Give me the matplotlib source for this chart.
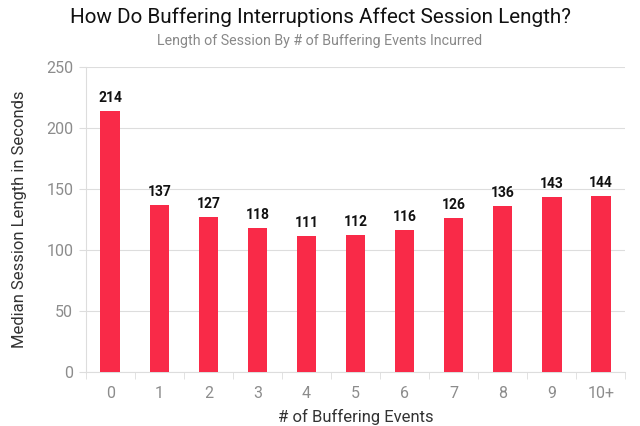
import matplotlib
matplotlib.use("Agg")
import matplotlib.pyplot as plt
import numpy as np

categories = ["0", "1", "2", "3", "4", "5", "6", "7", "8", "9", "10+"]
median_seconds = [214, 137, 127, 118, 111, 112, 116, 126, 136, 143, 144]
yticks = [0, 50, 100, 150, 200, 250]

plt.rcParams['font.family'] = ['Roboto', 'DejaVu Sans']

fig = plt.figure(figsize=(6.4, 4.26), dpi=100)
ax = fig.add_axes([0.134, 0.127, 0.843, 0.716])

x = np.arange(len(categories))
ax.bar(x, median_seconds, width=0.4, color="#f92a48", zorder=3)

for xi, v in zip(x, median_seconds):
    ax.text(xi, v + 5, str(v), ha="center", va="bottom",
            fontsize=10, fontweight="bold", color="#111111")

ax.set_xlim(-0.5, len(categories) - 0.5)
ax.set_ylim(0, 250)
ax.set_yticks(yticks)
ax.grid(axis="y", color="#dddddd", linewidth=0.8, zorder=0)

ax.set_xticks(x)
ax.set_xticklabels(categories)
ax.set_xticks(np.arange(-0.5, len(categories)), minor=True)
ax.tick_params(axis="x", which="major", length=0, pad=10, labelsize=11.5, labelcolor="#8c8c8c")
ax.tick_params(axis="x", which="minor", length=5, color="#dddddd")
ax.tick_params(axis="y", length=5, color="#dddddd", labelsize=11.5, labelcolor="#8c8c8c", pad=4)

for side in ["top", "right"]:
    ax.spines[side].set_visible(False)
ax.spines["left"].set_color("#dddddd")
ax.spines["bottom"].set_color("#dddddd")

ax.set_xlabel("# of Buffering Events", fontsize=12, color="#333333", labelpad=6)
ax.set_ylabel("Median Session Length in Seconds", fontsize=12, color="#333333", labelpad=14)

fig.text(0.5, 0.945, "How Do Buffering Interruptions Affect Session Length?",
         ha="center", fontsize=14.9, color="#111111")
fig.text(0.5, 0.895, "Length of Session By # of Buffering Events Incurred",
         ha="center", fontsize=10.3, color="#888888")

fig.savefig("out.png", dpi=100)
